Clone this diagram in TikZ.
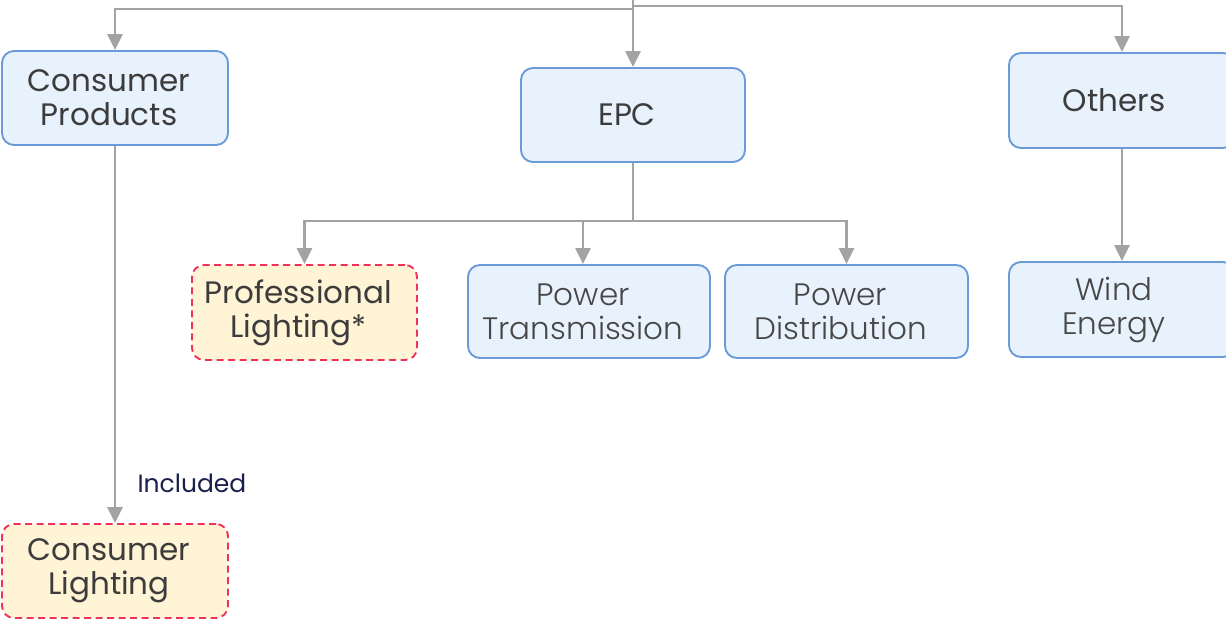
\documentclass[tikz,border=0pt]{standalone}
\usepackage{fontspec}
\setmainfont{Poppins}
\newfontfamily\lightfont{Poppins}[UprightFont=* Light]
\usetikzlibrary{arrows.meta}
\definecolor{boxfill}{HTML}{E8F2FD}
\definecolor{boxline}{HTML}{6A9BD8}
\definecolor{hlfill}{HTML}{FFF4D6}
\definecolor{hlline}{HTML}{F0325A}
\definecolor{txt}{HTML}{3C3C3C}
\definecolor{subtxt}{HTML}{474747}
\definecolor{conncol}{HTML}{A3A3A3}
\definecolor{lbl}{HTML}{1A1F4D}
\newcommand\shl[1]{#1\hspace*{12pt}}
\tikzset{
  base/.style={rectangle, rounded corners=12pt, line width=1.9pt, align=center,
    inner sep=0pt, font=\fontsize{31}{34}\selectfont, text=txt},
  mainbox/.style={base, draw=boxline, fill=boxfill},
  subbox/.style={base, draw=boxline, fill=boxfill, text=subtxt, font=\lightfont\fontsize{31}{34}\selectfont},
  hlbox/.style={base, draw=hlline, fill=hlfill, dash pattern=on 7pt off 4.5pt},
  conn/.style={draw=conncol, line width=2.5pt, -{Triangle[length=16pt,width=15pt]}},
  link/.style={draw=conncol, line width=2.5pt},
}
\begin{document}
\begin{tikzpicture}[x=1pt,y=-1pt]
\useasboundingbox (0,0) rectangle (1226,620);
\node[mainbox, minimum width=226pt, minimum height=94pt] (cp) at (115,98) {\shl{Consumer}\\\shl{Products}};
\node[mainbox, minimum width=224pt, minimum height=94pt] (epc) at (633,115) {\shl{EPC}};
\node[mainbox, minimum width=226pt, minimum height=95pt] (oth) at (1122,100.5) {\shl{Others}\hspace*{4pt}};
\node[hlbox, minimum width=225pt, minimum height=95pt] (pl) at (304.5,312.5) {\shl{Professional}\\\shl{Lighting*}};
\node[subbox, minimum width=242pt, minimum height=93pt] (pt) at (589,311.5) {\shl{Power}\\\shl{Transmission}};
\node[subbox, minimum width=243pt, minimum height=93pt] (pd) at (846.5,311.5) {\shl{Power}\\\shl{Distribution}};
\node[subbox, minimum width=226pt, minimum height=95pt] (we) at (1122,309.5) {\shl{Wind}\hspace*{4pt}\\\shl{Energy}\hspace*{4pt}};
\node[hlbox, minimum width=226pt, minimum height=94pt] (cl) at (115,571) {\shl{Consumer}\\\shl{Lighting}};
\coordinate (top) at (633,-2);
\coordinate (jl) at (633,9);
\coordinate (jr) at (633,6);
\coordinate (je) at (633,221);
\draw[link] (top) -- (jl);
\draw[conn] (jl) -| (cp.north);
\draw[conn] (jl) -- (epc.north);
\draw[conn] (jr) -| (oth.north);
\draw[link] (epc.south) -- (je);
\draw[conn] (je) -| (pl.north);
\draw[conn] (je) -| ([xshift=-6pt]pt.north);
\draw[conn] (je) -| (pd.north);
\draw[conn] (oth.south) -- (we.north);
\draw[conn] (cp.south) -- node[pos=0.895, right=18pt, text=lbl, font=\fontsize{25}{28}\selectfont] (inc) {Included} (cl.north);
\end{tikzpicture}
\end{document}
